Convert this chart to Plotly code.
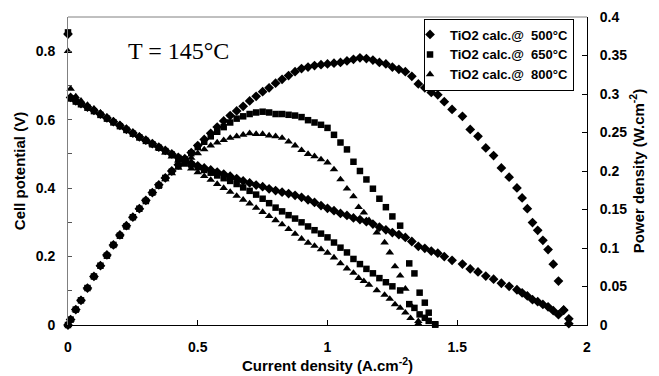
import plotly.graph_objects as go

# ---------------- data ----------------
series_names = ["TiO2 calc.@\u00a0 500°C", "TiO2 calc.@\u00a0 650°C", "TiO2 calc.@\u00a0 800°C"]

j500 = [0, 0.01, 0.03, 0.05, 0.075, 0.1, 0.125, 0.15, 0.175, 0.2, 0.225, 0.25, 0.275, 0.3, 0.325,
        0.35, 0.375, 0.4, 0.425, 0.45, 0.475, 0.5, 0.525, 0.55, 0.575, 0.6, 0.625, 0.65, 0.675, 0.7,
        0.725, 0.75, 0.775, 0.8, 0.825, 0.85, 0.875, 0.9, 0.925, 0.95, 0.975, 1.0, 1.025, 1.05, 1.075,
        1.1, 1.125, 1.15, 1.175, 1.2, 1.225, 1.25, 1.275, 1.3, 1.325, 1.35, 1.375, 1.4, 1.425, 1.45,
        1.48, 1.52, 1.55, 1.58, 1.61, 1.64, 1.67, 1.70, 1.73, 1.75, 1.77, 1.79, 1.81, 1.83, 1.85,
        1.87, 1.89, 1.91, 1.93]
v500 = [0.85, 0.665, 0.655, 0.647, 0.637, 0.627, 0.616, 0.605, 0.594, 0.583, 0.572, 0.561, 0.550, 0.540,
        0.530, 0.520, 0.510, 0.500, 0.490, 0.480, 0.472, 0.465, 0.459, 0.453, 0.447, 0.441, 0.435, 0.428,
        0.421, 0.415, 0.409, 0.404, 0.398, 0.393, 0.388, 0.384, 0.379, 0.373, 0.366, 0.358, 0.349, 0.341,
        0.334, 0.326, 0.320, 0.313, 0.308, 0.302, 0.295, 0.286, 0.278, 0.270, 0.264, 0.256, 0.244, 0.230,
        0.224, 0.216, 0.210, 0.200, 0.189, 0.178, 0.164, 0.155, 0.143, 0.134, 0.122, 0.113, 0.103, 0.094,
        0.085, 0.074, 0.068, 0.060, 0.053, 0.042, 0.030, 0.044, 0.004]
p500 = [0, 0.007, 0.020, 0.032, 0.048, 0.063, 0.077, 0.091, 0.104, 0.117, 0.129, 0.140, 0.151, 0.162,
        0.172, 0.182, 0.191, 0.200, 0.208, 0.216, 0.224, 0.233, 0.241, 0.249, 0.257, 0.265, 0.272, 0.278,
        0.284, 0.291, 0.297, 0.303, 0.308, 0.314, 0.319, 0.324, 0.329, 0.333, 0.335, 0.337, 0.338, 0.339,
        0.340, 0.341, 0.343, 0.345, 0.347, 0.346, 0.344, 0.341, 0.339, 0.335, 0.332, 0.329, 0.323, 0.313,
        0.308, 0.302, 0.299, 0.290, 0.280, 0.271, 0.254, 0.245, 0.230, 0.220, 0.204, 0.192, 0.178, 0.165,
        0.151, 0.133, 0.123, 0.110, 0.098, 0.079, 0.057, 0.019, 0.008]

j650 = [0, 0.01, 0.03, 0.05, 0.075, 0.1, 0.125, 0.15, 0.175, 0.2, 0.225, 0.25, 0.275, 0.3, 0.325,
        0.35, 0.375, 0.4, 0.425, 0.45, 0.475, 0.5, 0.525, 0.55, 0.575, 0.6, 0.625, 0.65, 0.675, 0.7,
        0.725, 0.75, 0.775, 0.8, 0.825, 0.85, 0.875, 0.9, 0.925, 0.95, 0.975, 1.0, 1.025, 1.05, 1.075,
        1.1, 1.125, 1.15, 1.175, 1.2, 1.225, 1.25, 1.28, 1.315, 1.335, 1.355, 1.375, 1.39, 1.415]
v650 = [0.855, 0.662, 0.653, 0.645, 0.635, 0.625, 0.614, 0.603, 0.592, 0.581, 0.570, 0.559, 0.548, 0.538,
        0.528, 0.518, 0.508, 0.498, 0.488, 0.478, 0.469, 0.461, 0.453, 0.445, 0.437, 0.429, 0.421, 0.412,
        0.402, 0.392, 0.381, 0.369, 0.356, 0.343, 0.332, 0.321, 0.311, 0.300, 0.288, 0.277, 0.267, 0.256,
        0.241, 0.226, 0.212, 0.193, 0.178, 0.164, 0.151, 0.137, 0.125, 0.113, 0.101, 0.061, 0.050, 0.031,
        0.021, 0.012, 0.001]
p650 = [0, 0.007, 0.020, 0.032, 0.048, 0.063, 0.077, 0.090, 0.104, 0.116, 0.128, 0.140, 0.151, 0.161,
        0.172, 0.181, 0.191, 0.199, 0.207, 0.215, 0.223, 0.231, 0.238, 0.245, 0.251, 0.257, 0.263, 0.268,
        0.271, 0.274, 0.276, 0.277, 0.276, 0.274, 0.274, 0.273, 0.272, 0.270, 0.266, 0.263, 0.260, 0.256,
        0.247, 0.237, 0.228, 0.212, 0.200, 0.189, 0.177, 0.164, 0.153, 0.141, 0.129, 0.080, 0.067, 0.042,
        0.029, 0.016, 0.001]

j800 = [0, 0.01, 0.03, 0.05, 0.075, 0.1, 0.125, 0.15, 0.175, 0.2, 0.225, 0.25, 0.275, 0.3, 0.325,
        0.35, 0.375, 0.4, 0.425, 0.45, 0.475, 0.5, 0.525, 0.55, 0.575, 0.6, 0.625, 0.65, 0.675, 0.7,
        0.725, 0.75, 0.775, 0.8, 0.825, 0.85, 0.875, 0.9, 0.925, 0.95, 0.975, 1.0, 1.025, 1.05, 1.075,
        1.1, 1.12, 1.14, 1.16, 1.19, 1.22, 1.24, 1.26, 1.28, 1.30, 1.32, 1.35]
v800 = [0.80, 0.690, 0.668, 0.655, 0.643, 0.632, 0.620, 0.608, 0.597, 0.586, 0.575, 0.564, 0.552, 0.540,
        0.528, 0.516, 0.504, 0.492, 0.480, 0.468, 0.457, 0.446, 0.435, 0.424, 0.412, 0.400, 0.389, 0.377,
        0.366, 0.355, 0.342, 0.330, 0.318, 0.306, 0.294, 0.280, 0.266, 0.252, 0.240, 0.231, 0.221, 0.211,
        0.197, 0.180, 0.165, 0.152, 0.137, 0.128, 0.117, 0.101, 0.088, 0.076, 0.060, 0.050, 0.036, 0.020,
        0.004]
p800 = [0, 0.007, 0.020, 0.033, 0.048, 0.063, 0.078, 0.091, 0.104, 0.117, 0.129, 0.141, 0.152, 0.162,
        0.172, 0.181, 0.189, 0.197, 0.204, 0.211, 0.217, 0.223, 0.228, 0.233, 0.237, 0.240, 0.243, 0.245,
        0.247, 0.249, 0.248, 0.248, 0.246, 0.245, 0.243, 0.238, 0.233, 0.227, 0.222, 0.219, 0.215, 0.211,
        0.202, 0.189, 0.177, 0.167, 0.153, 0.146, 0.136, 0.120, 0.107, 0.094, 0.076, 0.064, 0.047, 0.026,
        0.005]

x_ticks = [0, 0.5, 1, 1.5, 2]
v_ticks = [0, 0.2, 0.4, 0.6, 0.8]
v_minor = [0.1, 0.3, 0.5, 0.7, 0.9]

# ---------------- figure ----------------
FONT = "Liberation Sans, Arial, Helvetica, sans-serif"
symbols = ["diamond", "square", "triangle-up"]
sizes = [7.5, 6.5, 7.5]
data = [(j500, v500, p500), (j650, v650, p650), (j800, v800, p800)]

fig = go.Figure()
for name, sym, sz, (j, v, p) in zip(series_names, symbols, sizes, data):
    fig.add_trace(go.Scatter(x=j, y=v, mode="markers", name=name, yaxis="y",
                             marker=dict(symbol=sym, size=sz, color="black", line=dict(width=0)),
                             cliponaxis=False))
for name, sym, sz, (j, v, p) in zip(series_names, symbols, sizes, data):
    fig.add_trace(go.Scatter(x=j, y=p, mode="markers", name=name, yaxis="y2", showlegend=False,
                             marker=dict(symbol=sym, size=sz, color="black", line=dict(width=0)),
                             cliponaxis=False))

tickfont = dict(family=FONT, size=14, color="black", weight="bold")
titlefont = dict(family=FONT, size=15, color="black", weight="bold")

fig.update_layout(
    width=659, height=376,
    margin=dict(l=68, r=72, t=17, b=51),
    plot_bgcolor="white", paper_bgcolor="white",
    showlegend=True,
    legend=dict(x=0.975, xanchor="right", y=0.995, yanchor="top",
                bordercolor="black", borderwidth=1, bgcolor="white",
                font=dict(family=FONT, size=13, color="black", weight="bold"),
                tracegroupgap=0, indentation=-15),
    xaxis=dict(range=[0, 2], tickvals=x_ticks, ticks="inside", ticklen=5, tickcolor="black",
               showline=True, linecolor="black", linewidth=1, showgrid=False, zeroline=False,
               tickfont=tickfont, ticklabelstandoff=9, automargin=False,
               title=dict(text="Current density (A.cm<sup>-2</sup>)", font=titlefont, standoff=0)),
    yaxis=dict(range=[0, 0.9], tickvals=v_ticks, ticks="inside", ticklen=4, tickcolor="#555",
               minor=dict(tickvals=v_minor, ticks="inside", ticklen=4, tickcolor="#555"),
               showline=True, linecolor="#808080", linewidth=1, showgrid=False, zeroline=False,
               tickfont=tickfont, ticklabelstandoff=9, automargin=False,
               title=dict(text="Cell potential (V)", font=titlefont, standoff=6)),
    yaxis2=dict(range=[0, 0.4], dtick=0.05, ticks="inside", ticklen=5, tickcolor="black",
                overlaying="y", side="right",
                showline=True, linecolor="black", linewidth=1, showgrid=False, zeroline=False,
                tickfont=tickfont, ticklabelstandoff=9, automargin=False,
                title=dict(text="Power density (W.cm<sup>-2</sup>)", font=titlefont, standoff=6)),
    shapes=[dict(type="line", xref="paper", yref="paper", x0=0, x1=1, y0=1, y1=1,
                 line=dict(color="#808080", width=1))],
    annotations=[dict(text="T = 145°C", xref="paper", yref="paper", x=0.212, y=0.89,
                      showarrow=False, xanchor="center", yanchor="middle",
                      font=dict(family="Liberation Serif, Times New Roman, serif", size=24, color="black"))],
)

fig.write_html("out.html", config={"displayModeBar": False},
               post_script="document.body.style.margin='0';document.body.style.overflow='hidden';")
